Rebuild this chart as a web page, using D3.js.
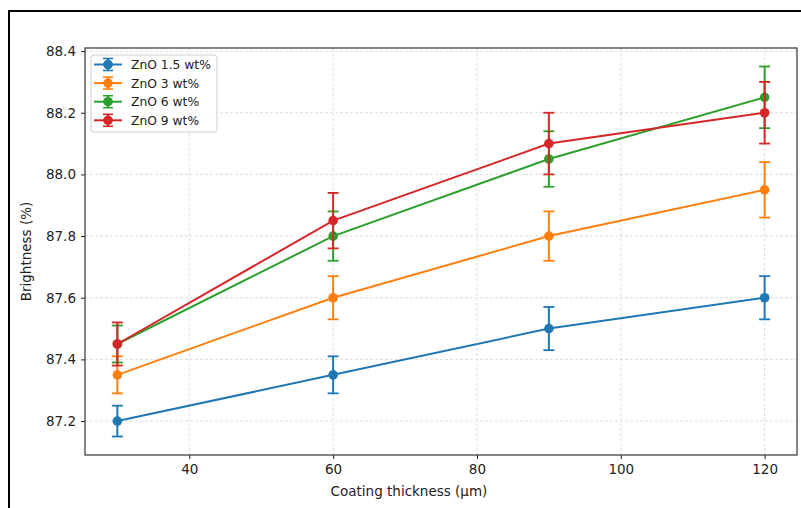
<!DOCTYPE html>
<html>
<head>
<meta charset="utf-8">
<script src="https://cdn.jsdelivr.net/npm/d3@7"></script>
<style>
  html, body { margin: 0; padding: 0; background: #fff; }
  svg { display: block; font-family: "DejaVu Sans", sans-serif; }
</style>
</head>
<body>
<svg id="chart" width="801" height="508"></svg>
<script>
// ---- data ----
const thickness = [30, 60, 90, 120];
const seriesNames = ["ZnO 1.5 wt%", "ZnO 3 wt%", "ZnO 6 wt%", "ZnO 9 wt%"];
const seriesColors = ["#1f77b4", "#ff7f0e", "#2ca02c", "#d62728"];
const zno15 = [87.20, 87.35, 87.50, 87.60];
const zno15Err = [0.05, 0.06, 0.07, 0.07];
const zno3 = [87.35, 87.60, 87.80, 87.95];
const zno3Err = [0.06, 0.07, 0.08, 0.09];
const zno6 = [87.45, 87.80, 88.05, 88.25];
const zno6Err = [0.06, 0.08, 0.09, 0.10];
const zno9 = [87.45, 87.85, 88.10, 88.20];
const zno9Err = [0.07, 0.09, 0.10, 0.10];
const xTicks = [40, 60, 80, 100, 120];
const yTicks = [87.2, 87.4, 87.6, 87.8, 88.0, 88.2, 88.4];
const xLabel = "Coating thickness (μm)";
const yLabel = "Brightness (%)";

const series = [
  { name: seriesNames[0], color: seriesColors[0], values: zno15, errs: zno15Err },
  { name: seriesNames[1], color: seriesColors[1], values: zno3, errs: zno3Err },
  { name: seriesNames[2], color: seriesColors[2], values: zno6, errs: zno6Err },
  { name: seriesNames[3], color: seriesColors[3], values: zno9, errs: zno9Err }
];

// ---- layout ----
const svg = d3.select("#chart");
const L = 85, R = 797, T = 48, B = 455;

// outer black frame (partly cropped)
svg.append("rect")
  .attr("x", 9).attr("y", 11).attr("width", 820).attr("height", 520)
  .attr("fill", "none").attr("stroke", "#000").attr("stroke-width", 2);

const x = d3.scaleLinear().domain([25.5, 124.5]).range([L, R]);
const y = d3.scaleLinear().domain([87.09, 88.41]).range([B, T]);

// grid
const grid = svg.append("g");
grid.selectAll("line.gx").data(xTicks).join("line")
  .attr("x1", d => x(d)).attr("x2", d => x(d)).attr("y1", T).attr("y2", B)
  .attr("stroke", "#d6d6d6").attr("stroke-width", 0.8).attr("stroke-dasharray", "3,2");
grid.selectAll("line.gy").data(yTicks).join("line")
  .attr("y1", d => y(d)).attr("y2", d => y(d)).attr("x1", L).attr("x2", R)
  .attr("stroke", "#d6d6d6").attr("stroke-width", 0.8).attr("stroke-dasharray", "3,2");

// axes
const xAxis = d3.axisBottom(x).tickValues(xTicks).tickSize(4).tickPadding(5).tickFormat(d3.format("d"));
const yAxis = d3.axisLeft(y).tickValues(yTicks).tickSize(4).tickPadding(5).tickFormat(d3.format(".1f"));
const gx = svg.append("g").attr("transform", `translate(0,${B})`).call(xAxis);
const gy = svg.append("g").attr("transform", `translate(${L},0)`).call(yAxis);
[gx, gy].forEach(g => {
  g.select(".domain").remove();
  g.selectAll(".tick line").attr("stroke", "#222").attr("stroke-width", 1);
  g.selectAll(".tick text").attr("fill", "#222").style("font-size", "13.5px").style("font-family", "DejaVu Sans, sans-serif");
});

// spines
svg.append("rect").attr("x", L).attr("y", T).attr("width", R - L).attr("height", B - T)
  .attr("fill", "none").attr("stroke", "#333").attr("stroke-width", 1.2);

// axis labels
svg.append("text").attr("x", (L + R) / 2 - 32).attr("y", 496)
  .attr("text-anchor", "middle").attr("fill", "#222").style("font-size", "13.5px").text(xLabel);
svg.append("text").attr("transform", `translate(31,${(T + B) / 2}) rotate(-90)`)
  .attr("text-anchor", "middle").attr("fill", "#222").style("font-size", "13.5px").text(yLabel);

// series
const line = d3.line().x(d => x(d.x)).y(d => y(d.y));
const capW = 5.5;
series.forEach(s => {
  const pts = thickness.map((t, i) => ({ x: t, y: s.values[i], e: s.errs[i] }));
  const g = svg.append("g");
  g.append("path").datum(pts).attr("d", line)
    .attr("fill", "none").attr("stroke", s.color).attr("stroke-width", 2);
  const eb = g.selectAll("g.eb").data(pts).join("g");
  eb.append("line")
    .attr("x1", d => x(d.x)).attr("x2", d => x(d.x))
    .attr("y1", d => y(d.y - d.e)).attr("y2", d => y(d.y + d.e))
    .attr("stroke", s.color).attr("stroke-width", 2);
  eb.append("line")
    .attr("x1", d => x(d.x) - capW).attr("x2", d => x(d.x) + capW)
    .attr("y1", d => y(d.y + d.e)).attr("y2", d => y(d.y + d.e))
    .attr("stroke", s.color).attr("stroke-width", 1.8);
  eb.append("line")
    .attr("x1", d => x(d.x) - capW).attr("x2", d => x(d.x) + capW)
    .attr("y1", d => y(d.y - d.e)).attr("y2", d => y(d.y - d.e))
    .attr("stroke", s.color).attr("stroke-width", 1.8);
  g.selectAll("circle").data(pts).join("circle")
    .attr("cx", d => x(d.x)).attr("cy", d => y(d.y)).attr("r", 4.8)
    .attr("fill", s.color);
});

// legend
const lg = svg.append("g");
lg.append("rect").attr("x", 91).attr("y", 55).attr("width", 126).attr("height", 77)
  .attr("rx", 3).attr("fill", "#fff").attr("fill-opacity", 0.85)
  .attr("stroke", "#d0d0d0").attr("stroke-width", 1);
const rowY = i => 64.5 + i * 18.6;
series.forEach((s, i) => {
  const cy = rowY(i), cx = 108;
  lg.append("line").attr("x1", 94).attr("x2", 122).attr("y1", cy).attr("y2", cy)
    .attr("stroke", s.color).attr("stroke-width", 2);
  lg.append("line").attr("x1", cx).attr("x2", cx).attr("y1", cy - 6).attr("y2", cy + 6)
    .attr("stroke", s.color).attr("stroke-width", 1.8);
  lg.append("line").attr("x1", cx - 5).attr("x2", cx + 5).attr("y1", cy - 6).attr("y2", cy - 6)
    .attr("stroke", s.color).attr("stroke-width", 1.6);
  lg.append("line").attr("x1", cx - 5).attr("x2", cx + 5).attr("y1", cy + 6).attr("y2", cy + 6)
    .attr("stroke", s.color).attr("stroke-width", 1.6);
  lg.append("circle").attr("cx", cx).attr("cy", cy).attr("r", 4.8).attr("fill", s.color);
  lg.append("text").attr("x", 131).attr("y", cy).attr("dy", "0.36em")
    .attr("fill", "#222").style("font-size", "12.3px").text(s.name);
});
</script>
</body>
</html>
